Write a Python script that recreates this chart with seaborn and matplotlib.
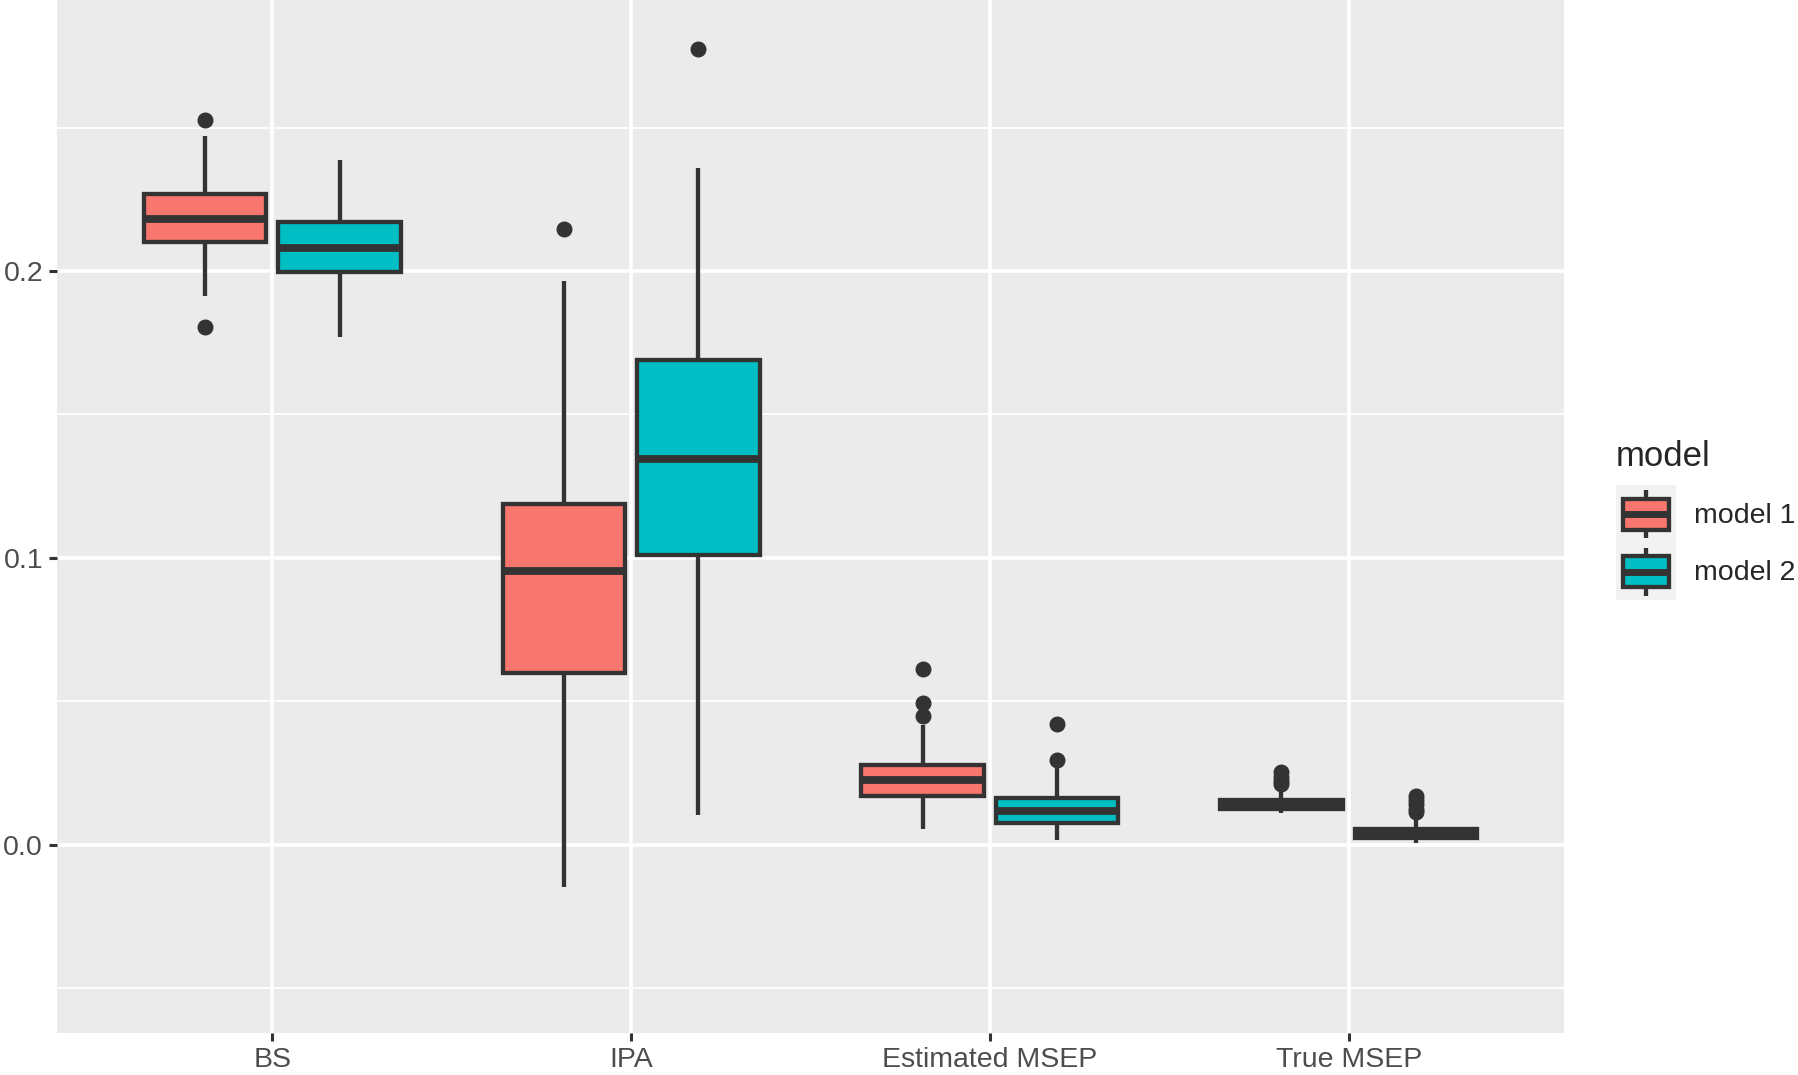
import pandas as pd
import matplotlib
matplotlib.use('Agg')
import matplotlib.pyplot as plt
import seaborn as sns
from matplotlib.legend_handler import HandlerBase
from matplotlib.patches import Rectangle, Patch
from matplotlib.lines import Line2D

metrics = ['BS', 'IPA', 'Estimated MSEP', 'True MSEP']
models = ['model 1', 'model 2']
colors = ['#F8766D', '#00BFC4']

# box summaries: whisker low, Q1, median, Q3, whisker high, outliers
m1_low = [0.1913, -0.0147, 0.0053, 0.0109]
m1_q1 = [0.2100, 0.0599, 0.0170, 0.0124]
m1_med = [0.2181, 0.0954, 0.0224, 0.0139]
m1_q3 = [0.2267, 0.1186, 0.0278, 0.0155]
m1_high = [0.2470, 0.1965, 0.0417, 0.0185]
m1_out = [[0.2525, 0.1806], [0.2148], [0.0447, 0.0495, 0.0611], [0.0210, 0.0222, 0.0236, 0.0252]]

m2_low = [0.1771, 0.0103, 0.0016, 0.0004]
m2_q1 = [0.1995, 0.1009, 0.0076, 0.0023]
m2_med = [0.2079, 0.1344, 0.0118, 0.0038]
m2_q3 = [0.2172, 0.1689, 0.0162, 0.0055]
m2_high = [0.2387, 0.2358, 0.0266, 0.0092]
m2_out = [[], [0.2773], [0.0294, 0.0419], [0.0115, 0.0125, 0.0140, 0.0155, 0.0168]]

dark = '#333333'


def sample(lo, q1, med, q3, hi, out, m=40):
    # rebuild a sample whose quartiles / whiskers give the summary above
    return [lo] + [q1] * m + [med] * m + [q3] * m + [hi] + list(out)


rows = []
stats = {'model 1': (m1_low, m1_q1, m1_med, m1_q3, m1_high, m1_out),
         'model 2': (m2_low, m2_q1, m2_med, m2_q3, m2_high, m2_out)}
for model, (lo, q1, med, q3, hi, out) in stats.items():
    for i, metric in enumerate(metrics):
        for v in sample(lo[i], q1[i], med[i], q3[i], hi[i], out[i]):
            rows.append({'metric': metric, 'model': model, 'value': v})
df = pd.DataFrame(rows)

sns.set_theme(style='darkgrid')
plt.rcParams['font.family'] = ['Liberation Sans', 'DejaVu Sans']

fig = plt.figure(figsize=(17.99, 10.75), dpi=100)
ax = fig.add_axes([57 / 1799, (1075 - 1033) / 1075, (1564 - 57) / 1799, 1033 / 1075])
ax.set_facecolor('#EBEBEB')

sns.boxplot(data=df, x='metric', y='value', hue='model', order=metrics, hue_order=models,
            palette=colors, saturation=1, width=0.75, gap=0.09, linewidth=3.1, linecolor=dark,
            whis=1.5, showcaps=False, legend=False, ax=ax,
            medianprops=dict(linewidth=5.6, color=dark),
            flierprops=dict(marker='o', markersize=10.5, markerfacecolor=dark,
                            markeredgecolor=dark, markeredgewidth=1))

ax.set_xlim(-0.6, 3.6)
ax.set_ylim(-0.0657, 0.2945)
ax.set_yticks([0.0, 0.1, 0.2])
ax.set_yticklabels(['0.0', '0.1', '0.2'])
ax.set_yticks([-0.05, 0.05, 0.15, 0.25], minor=True)
ax.grid(which='major', color='white', linewidth=2.6)
ax.grid(which='minor', axis='y', color='white', linewidth=1.3)
ax.set_axisbelow(True)
for s in ax.spines.values():
    s.set_visible(False)
ax.tick_params(which='major', length=6, width=2.2, color=dark, labelsize=20.5,
               labelcolor='#4D4D4D', pad=4, bottom=True, left=True)
ax.tick_params(which='minor', length=0)
ax.set_xlabel('')
ax.set_ylabel('')


class BoxKey(HandlerBase):
    def create_artists(self, legend, orig_handle, xdescent, ydescent, width, height, fontsize, trans):
        x0, y0 = -xdescent, -ydescent
        bg = Rectangle((x0, y0), width, height, facecolor='#F2F2F2', edgecolor='none', transform=trans)
        cx = x0 + width / 2
        wh = Line2D([cx, cx], [y0 + 0.08 * height, y0 + 0.92 * height], color=dark, lw=3.1,
                    solid_capstyle='butt', transform=trans)
        box = Rectangle((x0 + 0.11 * width, y0 + 0.23 * height), 0.78 * width, 0.54 * height,
                        facecolor=orig_handle.get_facecolor(), edgecolor=dark, lw=3.1, transform=trans)
        med = Line2D([x0 + 0.11 * width, x0 + 0.89 * width], [y0 + height / 2] * 2,
                     color=dark, lw=5.0, solid_capstyle='butt', transform=trans)
        return [bg, wh, box, med]


handles = [Patch(facecolor=c) for c in colors]
leg = fig.legend(handles, models, title='model', loc='upper left',
                 bbox_to_anchor=(1616 / 1799, 1 - 440 / 1075), frameon=False,
                 fontsize=20.5, title_fontsize=25, borderpad=0, borderaxespad=0, labelspacing=0,
                 handlelength=2.1, handleheight=2.73, handletextpad=0.65,
                 alignment='left', handler_map={Patch: BoxKey()})
leg._legend_box.sep = 9

fig.savefig('out.png', dpi=100)
